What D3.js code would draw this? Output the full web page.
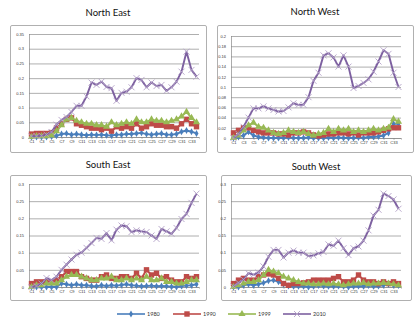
<!DOCTYPE html>
<html>
<head>
<meta charset="utf-8">
<script src="https://cdn.jsdelivr.net/npm/d3@7"></script>
<style>
  body { margin: 0; background: #fff; }
  svg { display: block; font-family: Lato, "Open Sans", sans-serif; }
</style>
</head>
<body>
<svg id="chart" width="420" height="325"></svg>
<script>
// categories C1..C34
var cats = d3.range(1, 35).map(function(i) { return "C" + i; });
var years = ["1980", "1990", "1999", "2010"];

// North East
var ne1980 = [0,0,0,0,0.002,0.004,0.01,0.012,0.008,0.01,0.008,0.006,0.008,0.007,0.008,0.006,0.005,0.008,0.008,0.01,0.01,0.012,0.014,0.01,0.008,0.01,0.012,0.008,0.008,0.01,0.018,0.022,0.018,0.012];
var ne1990 = [0.01,0.012,0.012,0.012,0.015,0.03,0.045,0.06,0.065,0.045,0.04,0.035,0.03,0.03,0.025,0.03,0.02,0.035,0.03,0.035,0.03,0.045,0.03,0.035,0.045,0.04,0.04,0.035,0.035,0.03,0.045,0.06,0.045,0.035];
var ne1999 = [0,0.003,0.003,0.003,0.005,0.02,0.04,0.06,0.065,0.055,0.05,0.045,0.045,0.04,0.04,0.035,0.05,0.04,0.045,0.05,0.045,0.06,0.05,0.05,0.06,0.055,0.055,0.05,0.055,0.06,0.07,0.085,0.065,0.05];
var ne2010 = [0.003,0.003,0.004,0.008,0.017,0.042,0.058,0.068,0.085,0.106,0.106,0.138,0.185,0.177,0.188,0.17,0.166,0.123,0.15,0.154,0.169,0.2,0.194,0.169,0.185,0.173,0.177,0.157,0.169,0.188,0.222,0.29,0.228,0.205];

// North West
var nw1980 = [0,0.002,0.005,0.012,0.005,0.002,0.001,0,0,0,0,0.001,0,0,0,0.001,0,0,0,0.001,0,0.001,0,0,0,0.001,0,0.002,0.002,0.003,0.005,0.01,0.028,0.028];
var nw1990 = [0.01,0.015,0.02,0.02,0.015,0.012,0.01,0.01,0.01,0.008,0.008,0.006,0.01,0.01,0.012,0.01,0.006,0.004,0.006,0.008,0.008,0.01,0.01,0.008,0.01,0.006,0.01,0.01,0.01,0.012,0.015,0.018,0.02,0.02];
var nw1999 = [0,0.005,0.015,0.025,0.03,0.022,0.02,0.015,0.01,0.008,0.01,0.015,0.012,0.01,0.012,0.008,0.005,0.008,0.01,0.018,0.012,0.018,0.015,0.018,0.012,0.015,0.012,0.015,0.018,0.015,0.018,0.02,0.037,0.032];
var nw2010 = [0,0.008,0.022,0.04,0.058,0.058,0.062,0.058,0.055,0.052,0.053,0.06,0.068,0.065,0.065,0.08,0.112,0.128,0.162,0.166,0.158,0.14,0.162,0.14,0.098,0.102,0.108,0.115,0.13,0.15,0.172,0.165,0.128,0.1];

// South East
var se1980 = [0,0,0,0,0,0,0.01,0.008,0.005,0.008,0.005,0.005,0.003,0.002,0.005,0.003,0.005,0.004,0.006,0.008,0.005,0.004,0.002,0.003,0.004,0.002,0.003,0.002,0.001,0,0.003,0.004,0.005,0.008];
var se1990 = [0.01,0.015,0.015,0.015,0.015,0.02,0.03,0.045,0.045,0.045,0.03,0.025,0.02,0.02,0.03,0.035,0.025,0.025,0.03,0.03,0.025,0.04,0.025,0.05,0.035,0.04,0.025,0.03,0.02,0.015,0.015,0.03,0.025,0.03];
var se1999 = [0,0.005,0.005,0.01,0.01,0.01,0.02,0.03,0.035,0.035,0.03,0.025,0.02,0.02,0.025,0.025,0.03,0.02,0.02,0.025,0.02,0.025,0.02,0.03,0.02,0.02,0.025,0.015,0.015,0.01,0.01,0.015,0.02,0.02];
var se2010 = [0,0.003,0.01,0.026,0.02,0.03,0.05,0.065,0.08,0.094,0.1,0.114,0.128,0.143,0.14,0.157,0.136,0.167,0.179,0.177,0.16,0.165,0.162,0.16,0.15,0.14,0.169,0.162,0.155,0.172,0.198,0.213,0.245,0.272];

// South West
var sw1980 = [0,0,0.005,0.008,0.005,0.008,0.012,0.018,0.02,0.015,0.008,0.003,0.002,0.002,0.002,0,0.002,0.004,0.003,0.002,0.002,0.003,0.002,0,0.002,0.003,0.002,0.004,0.002,0.003,0.005,0.008,0.005,0.004];
var sw1990 = [0.01,0.02,0.025,0.02,0.02,0.03,0.035,0.038,0.035,0.025,0.01,0.005,0.01,0.01,0.012,0.015,0.02,0.02,0.02,0.02,0.025,0.03,0.015,0.015,0.02,0.035,0.02,0.015,0.015,0.01,0.015,0.01,0.015,0.01];
var sw1999 = [0,0.005,0.01,0.015,0.015,0.02,0.035,0.05,0.045,0.04,0.03,0.025,0.02,0.015,0.01,0.01,0.008,0.008,0.01,0.008,0.01,0.008,0.005,0.008,0.01,0.01,0.012,0.008,0.01,0.01,0.012,0.01,0.008,0.005];
var sw2010 = [0.002,0.012,0.022,0.04,0.036,0.042,0.06,0.088,0.108,0.108,0.086,0.1,0.106,0.1,0.1,0.09,0.092,0.098,0.102,0.124,0.12,0.135,0.113,0.093,0.113,0.118,0.135,0.165,0.208,0.225,0.272,0.265,0.255,0.228];

var yTicksNE = [0,0.05,0.1,0.15,0.2,0.25,0.3,0.35];
var yTicksNW = [0,0.02,0.04,0.06,0.08,0.1,0.12,0.14,0.16,0.18,0.2];
var yTicksS = [0,0.05,0.1,0.15,0.2,0.25,0.3];

// colors (excel 2007 defaults)
var lineColor = ["#4a7ebb", "#be4b48", "#98b954", "#7d60a0"];
var markColor = ["#4a7ebb", "#be4b48", "#98b954", "#b3a2c7"];
var gridColor = "#9a9a9a";

var panels = [
  { title: "North East", box: [10, 25, 196, 127], plot: [29, 34, 199, 137], ticks: yTicksNE, series: [ne1980, ne1990, ne1999, ne2010], ty: 16 },
  { title: "North West", box: [217, 25, 196, 127], plot: [231, 36, 401, 138], ticks: yTicksNW, series: [nw1980, nw1990, nw1999, nw2010], ty: 15 },
  { title: "South East", box: [10, 175, 196, 125], plot: [29, 184, 199, 287], ticks: yTicksS, series: [se1980, se1990, se1999, se2010], ty: 168 },
  { title: "South West", box: [221, 175, 190, 125], plot: [231, 184, 401, 287], ticks: yTicksS, series: [sw1980, sw1990, sw1999, sw2010], ty: 170 }
];

var svg = d3.select("#chart");

function marker(g, k, x, y) {
  if (k === 0) {
    g.append("path").attr("d", d3.symbol(d3.symbolDiamond, 14)()).attr("transform", "translate(" + x + "," + y + ")")
      .attr("fill", markColor[0]);
  } else if (k === 1) {
    g.append("rect").attr("x", x - 2.7).attr("y", y - 2.7).attr("width", 5.4).attr("height", 5.4).attr("fill", markColor[1]);
  } else if (k === 2) {
    g.append("path").attr("d", d3.symbol(d3.symbolTriangle, 22)()).attr("transform", "translate(" + x + "," + y + ")")
      .attr("fill", markColor[2]);
  } else {
    g.append("path").attr("d", "M" + (x - 3) + "," + (y - 3) + "L" + (x + 3) + "," + (y + 3) + "M" + (x - 3) + "," + (y + 3) + "L" + (x + 3) + "," + (y - 3))
      .attr("stroke", markColor[3]).attr("stroke-width", 0.9).attr("fill", "none");
  }
}

panels.forEach(function(p) {
  var g = svg.append("g");
  g.append("rect").attr("x", p.box[0] + 0.5).attr("y", p.box[1] + 0.5).attr("width", p.box[2]).attr("height", p.box[3])
    .attr("fill", "#fff").attr("stroke", "#b0b0b0").attr("rx", 1.5);
  g.append("text").attr("x", p.box[0] + p.box[2] / 2).attr("y", p.ty).attr("text-anchor", "middle")
    .attr("font-size", 9.5).attr("fill", "#111").text(p.title);

  var x = d3.scalePoint().domain(cats).range([p.plot[0], p.plot[2]]).padding(0.5);
  var y = d3.scaleLinear().domain([0, d3.max(p.ticks)]).range([p.plot[3], p.plot[1]]);

  // gridlines + y labels
  var ya = g.append("g").attr("transform", "translate(" + p.plot[0] + ",0)")
    .call(d3.axisLeft(y).tickValues(p.ticks).tickSize(-(p.plot[2] - p.plot[0])).tickPadding(5).tickFormat(function(d) { return String(+d.toFixed(2)); }));
  ya.select(".domain").remove();
  ya.selectAll("line").attr("stroke", gridColor).attr("stroke-width", 0.8);
  ya.selectAll("text").attr("font-size", 4).attr("fill", "#333");
  g.append("line").attr("x1", p.plot[0] + 0.5).attr("x2", p.plot[0] + 0.5).attr("y1", p.plot[1]).attr("y2", p.plot[3])
    .attr("stroke", "#888").attr("stroke-width", 0.7);

  // x axis
  var xa = g.append("g").attr("transform", "translate(0," + p.plot[3] + ")")
    .call(d3.axisBottom(x).tickValues(cats.filter(function(c, i) { return i % 2 === 0; })).tickSize(1.5).tickPadding(1.5));
  xa.select(".domain").attr("stroke", "#888").attr("stroke-width", 0.7);
  xa.selectAll("line").attr("stroke", "#888");
  xa.selectAll("text").attr("font-size", 4).attr("fill", "#333");

  var line = d3.line().x(function(d, i) { return x(cats[i]); }).y(function(d) { return y(d); });
  p.series.forEach(function(vals, k) {
    var sg = g.append("g");
    sg.append("path").datum(vals).attr("d", line).attr("fill", "none")
      .attr("stroke", lineColor[k]).attr("stroke-width", 1.9).attr("stroke-linejoin", "round");
    vals.forEach(function(v, i) { marker(sg, k, x(cats[i]), y(v)); });
  });
});

// legend
var legX = [117, 173, 228, 283];
var leg = svg.append("g");
years.forEach(function(yr, k) {
  var lx = legX[k], ly = 314;
  leg.append("line").attr("x1", lx).attr("x2", lx + 28).attr("y1", ly).attr("y2", ly)
    .attr("stroke", lineColor[k]).attr("stroke-width", 1.6);
  marker(leg, k, lx + 14, ly);
  leg.append("text").attr("x", lx + 30).attr("y", ly + 2).attr("font-size", 5.5).attr("fill", "#333").text(yr);
});
</script>
</body>
</html>
